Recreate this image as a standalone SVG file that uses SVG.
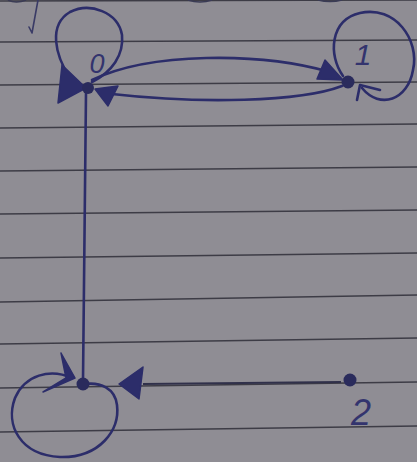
<svg xmlns="http://www.w3.org/2000/svg" width="417" height="462" viewBox="0 0 417 462">
<defs>
<style>
.rule{stroke:#3d3c46;stroke-width:1.6;fill:none}
.ink{stroke:#2c2d6a;stroke-width:2.6;fill:none;stroke-linecap:round;stroke-linejoin:round}
.head{fill:#2c2d6a;stroke:#2c2d6a;stroke-width:1.5;stroke-linejoin:round}
.dot{fill:#2a2b5c}
.lbl{font-family:"Liberation Sans",sans-serif;font-style:italic;fill:#33346e;text-anchor:middle}
</style>
</defs>
<rect width="417" height="462" fill="#8f8d94"/>
<g id="paper">
<path class="rule" d="M0,1 L417,0"/>
<path class="rule" d="M0,42 L417,40"/>
<path class="rule" d="M0,85 L417,82"/>
<path class="rule" d="M0,128 L417,124"/>
<path class="rule" d="M0,171 L417,167"/>
<path class="rule" d="M0,214 L417,210"/>
<path class="rule" d="M0,258 L417,253"/>
<path class="rule" d="M0,302 L417,295"/>
<path class="rule" d="M0,344 L417,338"/>
<path class="rule" d="M0,388 L417,382"/>
<path class="rule" d="M0,432 L417,426"/>
<path d="M38,0 L32,33 M29,27 L32,33" stroke="#3a3b66" stroke-width="1.6" fill="none" stroke-linecap="round"/>
<path d="M8,0 Q16,4 26,0 M188,0 Q200,4 212,0 M318,0 Q330,3 342,0" stroke="#3a3b55" stroke-width="1.6" fill="none"/>
</g>
<g id="connectors">
<path class="ink" d="M70,78 C55,55 48,25 70,12 C90,2 118,12 122,35 C124,55 112,72 92,82"/>
<polygon class="head" points="62,65 58,103 86,88"/>
<path class="ink" d="M92,80 C150,52 260,52 330,72"/>
<polygon class="head" points="325,60 317,79 343,80"/>
<path class="ink" d="M342,86 C300,102 200,104 112,94"/>
<polygon class="head" points="95,89 118,86 108,106"/>
<path class="ink" d="M343,76 C328,55 330,20 360,13 C395,5 420,40 413,70 C408,100 380,110 362,88"/>
<path class="ink" d="M380,90 L360,85 L357,100"/>
<path class="ink" d="M86,92 L83,380" stroke="#24243e" stroke-width="2"/>
<path class="ink" d="M85,384 C100,382 115,388 117,405 C120,430 100,458 60,457 C20,455 5,425 15,398 C25,375 50,368 72,378"/>
<path class="head" d="M61,353 L75,378 L43,392 L66,378 Z"/>
<polygon class="head" points="119,384 143,367 139,399"/>
<path d="M143,384 L341,382" stroke="#30304a" stroke-width="2" fill="none"/>
</g>
<g id="node0"><circle class="dot" cx="88" cy="88" r="6"/><text class="lbl" x="97" y="73" font-size="27">0</text></g>
<g id="node1"><circle class="dot" cx="348" cy="82" r="6.5"/><text class="lbl" x="363" y="65" font-size="30">1</text></g>
<g id="node2"><circle class="dot" cx="350" cy="380" r="6.5"/><text class="lbl" x="361" y="425" font-size="36">2</text></g>
<g id="node3"><circle class="dot" cx="83" cy="384" r="6.5"/></g>
</svg>
